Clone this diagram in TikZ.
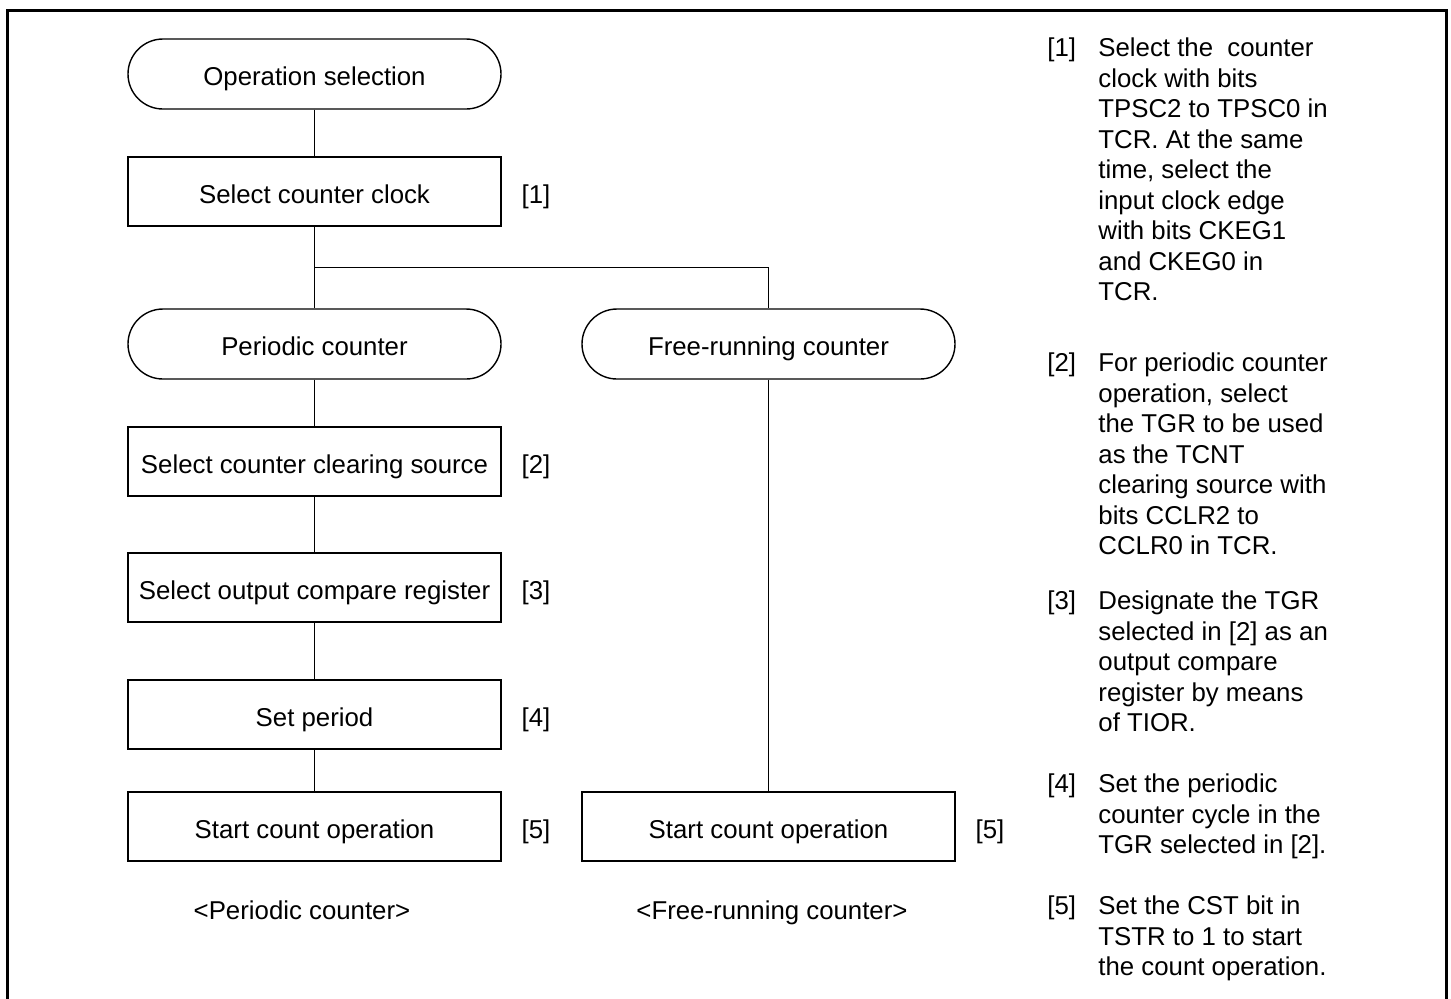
\documentclass[tikz,border=0pt]{standalone}
\usepackage{fontspec}
\setmainfont{Liberation Sans}
\begin{document}
\begin{tikzpicture}[x=0.5pt,y=-0.5pt,
  every node/.style={font=\fontsize{12.9}{15.25}\selectfont, inner sep=0pt},
  fixed/.style={text height=12pt, text depth=0.3pt},
  procbox/.style={fixed, draw, line width=0.7pt, minimum width=186.5pt, minimum height=34.5pt},
  termbox/.style={fixed, draw, line width=0.7pt, rounded corners=17.5pt, minimum width=186.5pt, minimum height=35pt},
  tag/.style={fixed},
  conn/.style={line width=0.5pt},
  note/.style={anchor=base west},
  frame/.style={line width=1.5pt}]
\useasboundingbox (0,0) rectangle (1451,998);
% outer frame (open at the bottom)
\draw[frame] (7.5,1005) -- (7.5,10.8) -- (1446.5,10.8) -- (1446.5,1005);

% left column
\node[termbox] (opsel) at (314.5,74) {Operation selection};
\node[procbox] (clk) at (314.5,191.5) {Select counter clock};
\node[tag] (t1) at (536,191.5) {[1]};
\node[termbox] (per) at (314.5,344) {Periodic counter};
\node[procbox] (clr) at (314.5,461.5) {Select counter clearing source};
\node[tag] (t2) at (536,461.5) {[2]};
\node[procbox] (ocr) at (314.5,587.5) {Select output compare register};
\node[tag] (t3) at (536,587.5) {[3]};
\node[procbox] (setp) at (314.5,714.5) {Set period};
\node[tag] (t4) at (536,714.5) {[4]};
\node[procbox] (st1) at (314.5,826.5) {Start count operation};
\node[tag] (t5a) at (536,826.5) {[5]};

% right column
\node[termbox] (free) at (768.5,344) {Free-running counter};
\node[procbox] (st2) at (768.5,826.5) {Start count operation};
\node[tag] (t5b) at (990,826.5) {[5]};

% captions
\node[tag] (cap1) at (302,908) {<Periodic counter>};
\node[tag] (cap2) at (772,908) {<Free-running counter>};

% connectors
\coordinate (fork) at (314.5,267);
\draw[conn] (opsel) -- (clk);
\draw[conn] (clk) -- (per);
\draw[conn] (fork) -| (free);
\draw[conn] (per) -- (clr);
\draw[conn] (clr) -- (ocr);
\draw[conn] (ocr) -- (setp);
\draw[conn] (setp) -- (st1);
\draw[conn] (free) -- (st2);

% notes
\node[note] (n1l) at (1047,56.5) {[1]};
\node[note] (n1) at (1098,56.5) {\parbox[t]{170pt}{Select the~ counter\\clock with bits\\TPSC2 to TPSC0 in\\TCR. At the same\\time, select the\\input clock edge\\with bits CKEG1\\and CKEG0 in\\TCR.}};
\node[note] (n2l) at (1047,371.5) {[2]};
\node[note] (n2) at (1098,371.5) {\parbox[t]{170pt}{For periodic counter\\operation, select\\the TGR to be used\\as the TCNT\\clearing source with\\bits CCLR2 to\\CCLR0 in TCR.}};
\node[note] (n3l) at (1047,609.5) {[3]};
\node[note] (n3) at (1098,609.5) {\parbox[t]{170pt}{Designate the TGR\\selected in [2] as an\\output compare\\register by means\\of TIOR.}};
\node[note] (n4l) at (1047,792.5) {[4]};
\node[note] (n4) at (1098,792.5) {\parbox[t]{170pt}{Set the periodic\\counter cycle in the\\TGR selected in [2].}};
\node[note] (n5l) at (1047,914.5) {[5]};
\node[note] (n5) at (1098,914.5) {\parbox[t]{170pt}{Set the CST bit in\\TSTR to 1 to start\\the count operation.}};
\end{tikzpicture}
\end{document}
